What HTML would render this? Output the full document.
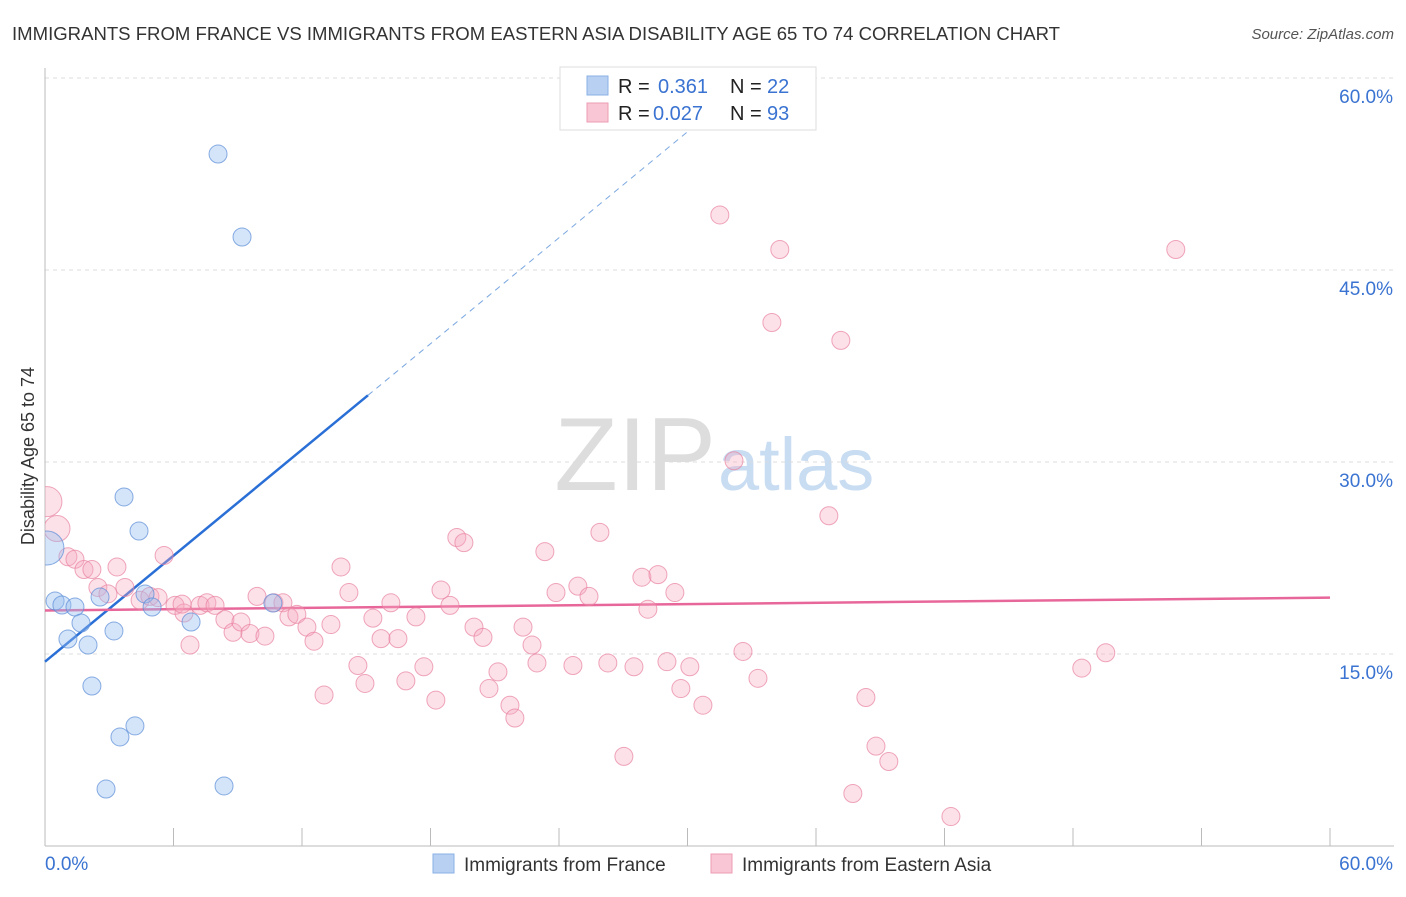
<!DOCTYPE html>
<html><head><meta charset="utf-8"><style>
body{margin:0;background:#fff;font-family:"Liberation Sans",sans-serif;}
svg text{font-family:"Liberation Sans",sans-serif;}
</style></head><body>
<svg id="chart" width="1406" height="892">
<defs><clipPath id="plotclip"><rect x="45" y="60" width="1360" height="786"/></clipPath></defs>
<text x="12" y="40" font-size="18" fill="#333" textLength="1048" lengthAdjust="spacingAndGlyphs">IMMIGRANTS FROM FRANCE VS IMMIGRANTS FROM EASTERN ASIA DISABILITY AGE 65 TO 74 CORRELATION CHART</text>
<text x="1394" y="39" font-size="15" fill="#555" text-anchor="end" font-style="italic">Source: ZipAtlas.com</text>
<text x="716" y="490" font-size="104" fill="#ddd" text-anchor="end" font-family="Liberation Serif">ZIP</text>
<text x="718" y="490" font-size="74" fill="#c8dcf2">atlas</text>
<text transform="translate(34,456) rotate(-90)" font-size="18" fill="#333" text-anchor="middle">Disability Age 65 to 74</text>
<g id="grid"></g><g id="axes"></g><g id="trends"></g><g id="pts" clip-path="url(#plotclip)"></g>
<g>
<rect x="560" y="67" width="256" height="63" fill="#fff" stroke="#ddd"/>
<rect x="587" y="76" width="21" height="19" fill="#b8d1f3" stroke="#8ab0e6"/>
<rect x="587" y="103" width="21" height="19" fill="#f8c6d4" stroke="#ee9cb5"/>
<text x="618" y="93" font-size="20" fill="#222">R = </text><text x="658" y="93" font-size="20" fill="#3a73d1">0.361</text>
<text x="730" y="93" font-size="20" fill="#222">N = </text><text x="767" y="93" font-size="20" fill="#3a73d1">22</text>
<text x="618" y="120" font-size="20" fill="#222">R = </text><text x="653" y="120" font-size="20" fill="#3a73d1">0.027</text>
<text x="730" y="120" font-size="20" fill="#222">N = </text><text x="767" y="120" font-size="20" fill="#3a73d1">93</text>
</g>
<g>
<rect x="433" y="854" width="21" height="19" fill="#b8d1f3" stroke="#8ab0e6"/>
<text x="464" y="871" font-size="19" fill="#333">Immigrants from France</text>
<rect x="711" y="854" width="21" height="19" fill="#f8c6d4" stroke="#ee9cb5"/>
<text x="742" y="871" font-size="19" fill="#333">Immigrants from Eastern Asia</text>
</g>
</svg>
<script>
const yTicks=[15,30,45,60];
const yTickLabels=["15.0%","30.0%","45.0%","60.0%"];
const xTickLabels=["0.0%","60.0%"];
const franceX=[8.08,9.20,3.69,4.39,0.09,0.47,0.79,1.40,2.57,4.67,5.00,1.68,1.07,2.01,3.22,6.82,2.19,10.64,4.20,3.50,2.85,8.36];
const franceY=[54.06,47.58,27.27,24.61,23.28,19.14,18.83,18.67,19.45,19.69,18.67,17.42,16.17,15.70,16.80,17.50,12.50,18.98,9.38,8.52,4.45,4.69];
const asiaX=[0.09,0.56,1.07,1.40,1.82,2.19,3.36,2.47,2.94,3.73,4.44,4.90,5.28,5.56,6.07,6.49,6.77,7.24,7.56,7.94,8.40,8.78,9.15,9.57,9.90,10.27,10.69,11.11,11.39,11.76,12.23,12.56,13.03,13.35,13.82,14.19,14.61,14.94,15.31,15.69,16.15,16.48,16.85,17.32,17.69,18.25,18.49,18.91,19.23,19.56,20.03,20.45,20.73,21.15,21.71,21.94,22.32,22.74,22.97,23.34,23.86,24.65,24.88,25.40,25.91,26.28,27.03,27.50,27.87,28.15,28.62,29.04,29.41,29.69,30.11,30.72,31.51,32.17,32.59,33.29,33.94,34.31,36.60,37.16,37.72,38.33,38.80,39.40,42.30,48.41,49.53,52.80,6.40];
const asiaY=[26.9,24.8,22.6,22.4,21.6,21.6,21.8,20.2,19.7,20.2,19.2,19.5,19.4,22.7,18.8,18.2,15.7,18.8,19.0,18.8,17.7,16.7,17.5,16.6,19.5,16.4,19.0,19.0,17.9,18.1,17.1,16.0,11.8,17.3,21.8,19.8,14.1,12.7,17.8,16.2,19.0,16.2,12.9,17.9,14.0,11.4,20.0,18.8,24.1,23.7,17.1,16.3,12.3,13.6,11.0,10.0,17.1,15.7,14.3,23.0,19.8,14.1,20.3,19.5,24.5,14.3,7.0,14.0,21.0,18.5,21.2,14.4,19.8,12.3,14.0,11.0,49.3,30.1,15.2,13.1,40.9,46.6,25.8,39.5,4.1,11.6,7.8,6.6,2.3,13.9,15.1,46.6,18.9];
const franceTrend=[14.4,1.38];
const asiaTrend=[18.4,0.0167];
const X0=45,X1=1330,Y0=846,Y60=78;
const sx=v=>X0+(X1-X0)*v/60, sy=v=>Y0-(Y0-Y60)*v/60;
const NS="http://www.w3.org/2000/svg";
function mk(t,a,p){const e=document.createElementNS(NS,t);for(const k in a)e.setAttribute(k,a[k]);p.appendChild(e);return e;}
const grid=document.getElementById('grid'),axes=document.getElementById('axes'),tr=document.getElementById('trends'),pts=document.getElementById('pts');
yTicks.forEach((v,i)=>{const y=sy(v);
 const l=mk('line',{x1:X0,x2:1394,y1:y,y2:y,stroke:'#ddd','stroke-dasharray':'4,4'},grid);
 
 
 const t=mk('text',{x:1393,y:y+25,'font-size':19,fill:'#3a73d1','text-anchor':'end'},axes);t.textContent=yTickLabels[i];
 
 });
mk('line',{x1:X0,x2:X0,y1:68,y2:Y0,stroke:'#bbb'},axes);
mk('line',{x1:X0,x2:1394,y1:Y0,y2:Y0,stroke:'#bbb'},axes);
for(let i=0;i<=10;i++){const x=X0+i*(X1-X0)/10;mk('line',{x1:x,x2:x,y1:828,y2:Y0,stroke:'#bbb'},axes);}
[[0,'start',45],[60,'end',1393]].forEach((d,i)=>{const t=mk('text',{x:d[2],y:870,'font-size':19,fill:'#3a73d1','text-anchor':d[1]},axes);t.textContent=xTickLabels[i];
 
 });
const fxEnd=15.08, fxDash=(58.5-franceTrend[0])/franceTrend[1];
let l1=mk('line',{x1:sx(0),y1:sy(franceTrend[0]),x2:sx(fxEnd),y2:sy(franceTrend[0]+franceTrend[1]*fxEnd),stroke:'#2a6fd6','stroke-width':2.5},tr);


let l2=mk('line',{x1:sx(fxEnd),y1:sy(franceTrend[0]+franceTrend[1]*fxEnd),x2:sx(fxDash),y2:sy(franceTrend[0]+franceTrend[1]*fxDash),stroke:'#7aa7e0','stroke-width':1,'stroke-dasharray':'6,5'},tr);


let l3=mk('line',{x1:sx(0),y1:sy(asiaTrend[0]),x2:sx(60),y2:sy(asiaTrend[0]+asiaTrend[1]*60),stroke:'#e8679a','stroke-width':2.5},tr);


asiaX.forEach((v,i)=>{const r=i==0?15:(i==1?13:9);
 const c=mk('circle',{cx:sx(v),cy:sy(asiaY[i]),r:r,fill:'rgba(245,170,192,0.35)',stroke:'rgba(232,130,160,0.7)','stroke-width':1},pts);
 
 });
franceX.forEach((v,i)=>{const r=i==4?17:9;
 const c=mk('circle',{cx:sx(v),cy:sy(franceY[i]),r:r,fill:'rgba(150,190,240,0.4)',stroke:'rgba(90,140,215,0.7)','stroke-width':1},pts);
 
 });
</script>
</body></html>
